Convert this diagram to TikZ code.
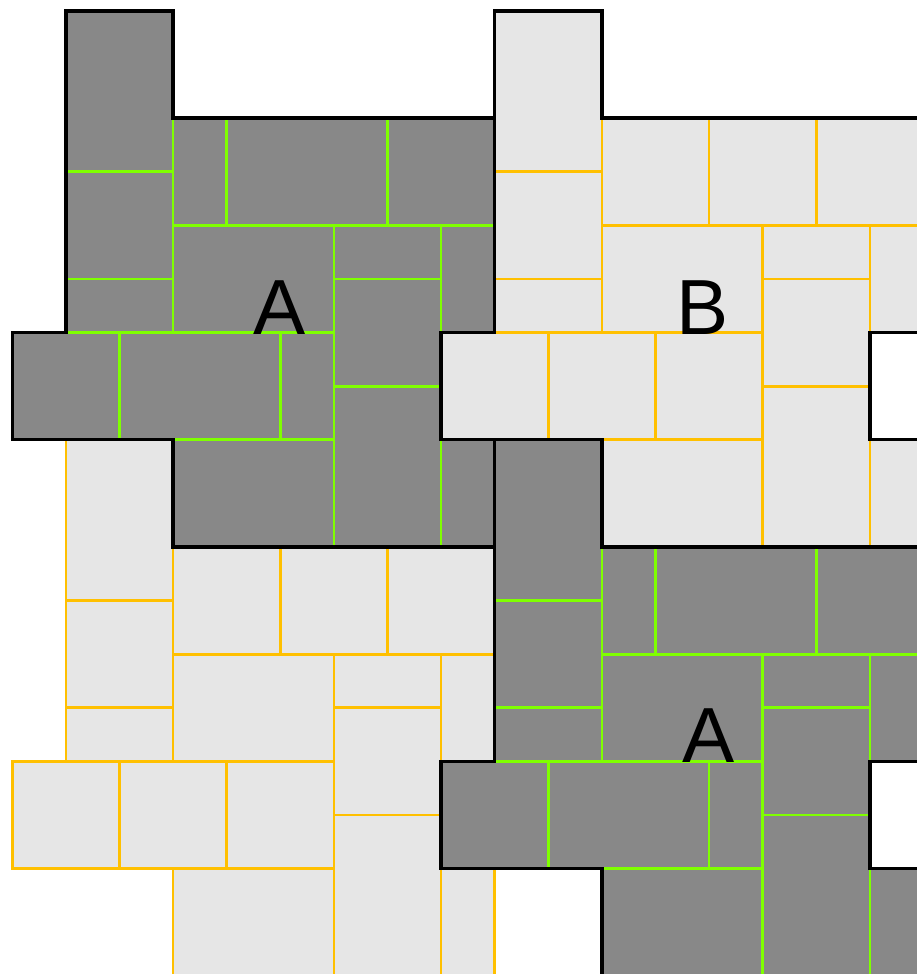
\documentclass[tikz,border=0pt]{standalone}
\usepackage{fontspec}
\setmainfont{Liberation Sans}
\usepackage{xcolor}
\usepackage{tikz}
\definecolor{tdark}{HTML}{888888}
\definecolor{tpale}{HTML}{E6E6E6}
\definecolor{tgreen}{HTML}{7FFF00}
\definecolor{torange}{HTML}{FFC000}
\newcommand{\tileshape}{(1,0) -- (3,0) -- (3,2) -- (9,2) -- (9,6) -- (8,6) -- (8,8) -- (9,8) -- (9,10) -- (3,10) -- (3,8) -- (0,8) -- (0,6) -- (1,6) -- cycle}
\newcommand{\seamsA}{(1,3) -- (3,3) (1,5) -- (3,5) (3,2) -- (3,6) (4,2) -- (4,4) (7,2) -- (7,4) (3,4) -- (9,4) (6,4) -- (6,10) (8,4) -- (8,6) (8,8) -- (8,10) (6,5) -- (8,5) (6,7) -- (8,7) (1,6) -- (6,6) (2,6) -- (2,8) (5,6) -- (5,8) (3,8) -- (6,8)}
\newcommand{\seamsB}{(1,3) -- (3,3) (1,5) -- (3,5) (3,2) -- (3,6) (5,2) -- (5,4) (7,2) -- (7,4) (3,4) -- (9,4) (6,4) -- (6,10) (8,4) -- (8,6) (8,8) -- (8,10) (6,5) -- (8,5) (6,7) -- (8,7) (1,6) -- (6,6) (2,6) -- (2,8) (4,6) -- (4,8) (3,8) -- (6,8)}

\begin{document}
\begin{tikzpicture}[
  x=1cm, y=-1cm,
  tileA/.style={fill=tdark},
  tileB/.style={fill=tpale},
  seamA/.style={draw=tgreen, line width=1.4pt},
  seamB/.style={draw=torange, line width=1.4pt},
  rim/.style={draw=black, line width=1.8pt},
  lbl/.style={anchor=base, inner sep=0pt, font=\fontsize{41.5pt}{48pt}\selectfont}
]
\useasboundingbox (-0.231,-0.205) rectangle (16.877,17.967);
\clip (-0.231,-0.205) rectangle (16.877,17.967);
% lower left B, no black rim
\begin{scope}[shift={(0,8)}]
\path[tileB] \tileshape;
\draw[seamB] \seamsB;
\draw[seamB] \tileshape;
\end{scope}
% upper left A
\path[tileA] \tileshape;
\draw[seamA] \seamsA;
\draw[rim] \tileshape;
% upper right B
\begin{scope}[shift={(8,0)}]
\path[tileB] \tileshape;
\draw[seamB] \seamsB;
\draw[rim] \tileshape;
\end{scope}
% lower right A
\begin{scope}[shift={(8,8)}]
\path[tileA] \tileshape;
\draw[seamA] \seamsA;
\draw[rim] \tileshape;
\end{scope}
\node[lbl] (la) at (4.98,6.03) {A};
\node[lbl] (lb) at (12.88,6.03) {B};
\node[lbl] (lc) at (12.99,14.03) {A};
\end{tikzpicture}
\end{document}
